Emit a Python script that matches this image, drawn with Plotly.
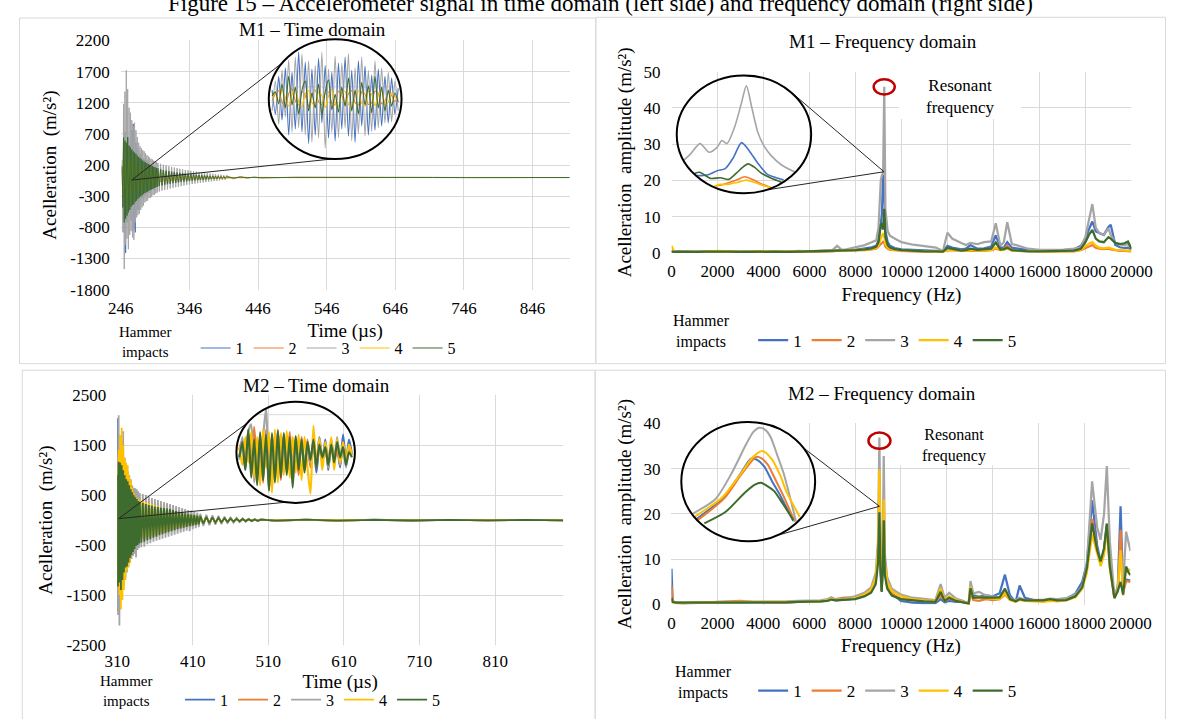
import plotly.graph_objects as go

W, H = 1187, 719
FONT = "Liberation Serif, Times New Roman, Times, serif"
GRID = "#D9D9D9"
COLORS = ["#4472C4", "#ED7D31", "#A5A5A5", "#FFC000", "#3E6B2E"]
NAMES = ["1", "2", "3", "4", "5"]

# ---------------------------------------------------------------- M1 time domain
T1 = [248, 249, 250, 251, 252, 253, 254, 255, 256, 257, 258, 259, 260, 261, 262, 263, 264, 265,
      266, 267, 268, 269, 270, 271, 272, 273, 274, 275, 276, 277, 278, 279, 280, 281, 282, 283,
      284, 285, 286, 287, 288, 289, 290, 291, 292, 293, 294, 295, 296, 297, 298, 299, 300,
      302, 304, 306, 308, 310, 312, 314, 316, 318, 320, 322, 324, 326, 328, 330, 332, 334, 336,
      338, 340, 342, 344, 346, 348, 350, 352, 354, 356, 358, 360, 362, 364, 366, 368, 370, 372,
      374, 376, 378, 380, 382, 384, 386, 388, 390, 392, 394, 396, 398, 400,
      410, 420, 430, 440, 450, 500, 550, 600, 650, 700, 750, 800, 850, 900]
T1S = [248, 250, 252, 254, 256, 258, 260, 262, 264, 266, 268, 270, 272, 274, 276, 278, 280, 282,
       284, 286, 288, 290, 292, 294, 296, 298, 300,
       304, 308, 312, 316, 320, 324, 328, 332, 336, 340, 344, 348, 352, 356, 360, 364, 368, 372,
       376, 380, 384, 388, 392, 396, 400,
       420, 450, 500, 600, 700, 800, 900]
M1T_1 = [120, -350, 620, -880, 740, -1210, 480, -720, 640, -580,
         520, -540, 610, -690, 760, -790, 860, -830, 690, -880,
         560, -620, 470, -520, 440, -410, 380, -430, 350, -330,
         310, -360, 290, -300, 270, -260, 280, -240, 230, -250,
         210, -220, 200, -190, 210, -180, 170, -190, 160, -150,
         170, -140, 150,
         -130, 140, -120, 125, -115, 110, -120, 100, -105, 95,
         -90, 95, -85, 80, -85, 75, -70, 72, -68, 65,
         -60, 62, -58, 55, -52, 50, -48, 46, -44, 42,
         -40, 38, -36, 34, -32, 30, -29, 27, -26, 24,
         -22, 21, -20, 18, -17, 15, -14, 12, -11, 10,
         -6, 5, -3, 3, -2, 1, -1, 1, 0, 1, 0, -1, 0, 0]
M1T_2 = [150, -320, 380, -300, 340, -280, 260, -250, 230, -220,
         200, -190, 175, -165, 150, -145, 135, -128, 120, -112,
         105, -100, 95, -90, 85, -80, 76,
         -70, 65, -60, 56, -52, 48, -45, 42, -39, 36,
         -33, 31, -29, 27, -25, 23, -21, 19, -17, 15,
         -14, 12, -11, 10, -9,
         5, -3, 2, -1, 1, 0, 0]
M1T_3 = [280, -880, 1180, -1470, 1380, -1080, 1720, -980, 1420, -1150,
         1120, -920, 1040, -860, 920, -960, 830, -1000, 880, -720,
         760, -640, 650, -600, 560, -580, 500, -520, 470, -480,
         440, -450, 420, -400, 390, -380, 360, -370, 340, -330,
         320, -330, 300, -310, 290, -280, 270, -275, 260, -255,
         250, -240, 235,
         -225, 220, -210, 205, -200, 195, -190, 180, -175, 170,
         -165, 160, -155, 150, -150, 140, -138, 132, -128, 122,
         -118, 115, -112, 108, -105, 100, -97, 94, -90, 88,
         -85, 82, -80, 76, -74, 70, -68, 65, -62, 60,
         -57, 54, -52, 49, -46, 44, -41, 38, -36, 33,
         -22, 14, -8, 5, -3, 2, -1, 1, -1, 1, 0, 1, -1, 0]
M1T_4 = [-120, 300, -360, 320, -310, 290, -270, 240, -235, 215,
         -205, 185, -180, 160, -155, 140, -138, 125, -120, 110,
         -106, 98, -94, 88, -84, 78, -74,
         68, -63, 58, -54, 50, -47, 44, -41, 38, -35,
         33, -30, 28, -26, 24, -22, 20, -18, 17, -15,
         14, -12, 11, -10, 9,
         -5, 3, -2, 2, -1, 1, 0]
M1T_5 = [180, -480, 640, -720, 590, -660, 560, -610, 650, -560,
         510, -520, 480, -470, 450, -440, 420, -430, 400, -390,
         380, -370, 350, -340, 330, -320, 310, -300, 290, -285,
         270, -265, 255, -250, 240, -235, 230, -225, 215, -210,
         205, -200, 195, -190, 185, -180, 172, -168, 162, -158,
         152, -150, 145,
         -138, 132, -126, 120, -115, 110, -106, 102, -98, 94,
         -90, 86, -83, 80, -77, 74, -71, 68, -65, 62,
         -60, 57, -55, 52, -50, 48, -46, 44, -42, 40,
         -38, 36, -35, 33, -31, 30, -28, 27, -25, 24,
         -22, 21, -20, 19, -18, 17, -16, 15, -14, 13,
         -9, 6, -4, 3, -2, 2, -1, 1, -1, 1, -1, 1, -1, 0]

# zoomed view (inset) of M1 time signal
TI1 = [270.5, 271.0, 271.5, 272.0, 272.5, 273.0, 273.5, 274.0, 274.5, 275.0, 275.5, 276.0, 276.5,
       277.0, 277.5, 278.0, 278.5, 279.0, 279.5, 280.0, 280.5, 281.0, 281.5, 282.0, 282.5, 283.0,
       283.5, 284.0, 284.5, 285.0, 285.5, 286.0, 286.5, 287.0, 287.5, 288.0, 288.5, 289.0, 289.5]
M1TI_1 = [150, -250, 380, -350, 520, -600, 450, -500, 790, -550,
          620, -740, 500, -600, 680, -400, 560, -650, 450, -700,
          600, -500, 700, -620, 480, -720, 640, -450, 550, -600,
          400, -520, 500, -450, 380, -400, 350, -250, 180]
M1TI_2 = [-30, 80, 140, -50, -120, 90, 170, -30, -100, 120,
          60, -120, 80, 150, -50, -90, 100, 120, -70, -100,
          130, 60, -110, 90, 140, -60, -100, 120, 80, -90,
          -60, 130, 100, -80, -30, 110, 60, -40, 20]
M1TI_3 = [-200, 300, -420, 480, -300, 650, -550, 700, -480, 750,
          -600, 640, -720, 560, -650, 780, -820, 500, -560, 720,
          -640, 600, -480, 760, -700, 520, -580, 700, -620, 480,
          -540, 640, -480, 520, -400, 450, -380, 300, -200]
M1TI_4 = [20, 100, -60, 150, 30, -120, 80, 160, -40, -130,
          90, 140, -60, -110, 120, 60, -140, 50, 150, -80,
          -120, 110, 130, -90, -130, 100, 140, -70, -120, 130,
          80, -110, 60, 140, -90, -50, 100, 40, -20]
M1TI_5 = [50, 120, -80, 250, -150, 380, -100, 200, -250, 150,
          300, -200, 100, -150, 250, -260, 120, 320, -180, 80,
          -220, 200, -120, 350, -200, 150, -250, 280, -100, 220,
          -230, 380, -150, 200, -200, 150, -120, 100, -50]

# ---------------------------------------------------------------- M2 time domain
T2 = [310, 311, 312, 313, 314, 315, 316, 317, 318, 319, 320, 321, 322, 323, 324, 325, 326, 327,
      328, 329, 330, 331, 332, 333, 334, 335, 336, 337, 338, 339, 340,
      342, 344, 346, 348, 350, 352, 354, 356, 358, 360, 362, 364, 366, 368, 370, 372, 374, 376,
      378, 380, 382, 384, 386, 388, 390, 392, 394, 396, 398, 400, 402, 404, 406, 408, 410, 412,
      414, 416, 418, 420,
      424, 428, 432, 436, 440, 444, 448, 452, 456, 460, 464, 468, 472, 476, 480, 484, 488, 492,
      496, 500,
      520, 560, 600, 650, 700, 750, 800, 850, 900]
M2T_1 = [2040, -1820, 1480, -1350, 1260, -1150, 1080, -1020, 960, -900,
         850, -820, 760, -720, 690, -650, 610, -600, 560, -540,
         520, -500, 480, -470, 620, -440, 430, -420, 410, -400, 390,
         -380, 370, -360, 350, -340, 330, -320, 310, -300, 290,
         -280, 270, -260, 250, -245, 240, -230, 220, -215, 210,
         -200, 195, -190, 180, -175, 170, -165, 160, -150, 145,
         -140, 135, -130, 125, -120, 115, -110, 105, -100, 95,
         -90, 85, -80, 75, -70, 65, -60, 55, -50, 46,
         -42, 38, -34, 30, -27, 24, -21, 18, -16, 14,
         -12, 10, -9, 8, -7, 6, -5, 5, -4]
M2T_2 = [900, -1400, 1300, -1200, 1350, -1100, 1200, -1000, 1100, -950,
         1000, -900, 950, -850, 880, -800, 780, -720, 700, -650,
         600, -560, 520, -480, 450, -430, 410, -400, 380, -370, 360,
         -350, 340, -330, 320, -310, 300, -290, 280, -270, 260,
         -250, 240, -230, 220, -210, 200, -190, 180, -175, 170,
         -160, 150, -145, 140, -130, 125, -120, 115, -110, 105,
         -100, 95, -90, 85, -80, 75, -70, 65, -60, 55,
         -52, 48, -45, 42, -39, 36, -33, 30, -28, 26,
         -24, 22, -20, 18, -16, 14, -12, 11, -10, 9,
         -8, 7, -7, 6, -6, 5, -5, 4, -4]
M2T_3 = [1300, -1900, 2100, -2110, 1700, -1500, 1600, -1400, 1780, -1300,
         1250, -1150, 1100, -1050, 980, -950, 900, -860, 820, -780,
         700, -720, 650, -680, 640, -750, 620, -600, 580, -560, 540,
         -540, 520, -530, 500, -480, 470, -460, 440, -430, 420,
         -410, 400, -390, 380, -370, 360, -350, 340, -330, 320,
         -310, 300, -290, 280, -270, 260, -250, 240, -230, 220,
         -210, 200, -220, 190, -180, 170, -160, 150, -140, 130,
         -120, 110, -100, 95, -90, 85, -80, 72, -65, 58,
         -52, 46, -40, 35, -30, 26, -22, 19, -16, 14,
         -12, 10, -9, 8, -7, 6, -5, 5, -4]
M2T_4 = [800, -1200, 1400, -1500, 1700, -1790, 1850, -1600, 1500, -1400,
         1250, -1200, 1150, -1000, 1100, -940, 900, -850, 800, -700,
         650, -600, 550, -500, 470, -480, 450, -430, 420, -410, 400,
         -390, 380, -370, 360, -350, 340, -330, 320, -310, 300,
         -290, 280, -270, 260, -250, 240, -230, 220, -210, 200,
         -195, 190, -180, 170, -165, 160, -150, 145, -140, 130,
         -125, 120, -115, 110, -100, 95, -90, 85, -80, 75,
         -70, 65, -60, 55, -50, 46, -42, 38, -34, 30,
         -27, 24, -21, 18, -16, 14, -12, 11, -10, 9,
         -8, 7, -7, 6, -6, 5, -5, 4, -4]
M2T_5 = [900, -1330, 1170, -1250, 1150, -1400, 1100, -1200, 1000, -1050,
         900, -950, 820, -930, 780, -850, 700, -760, 620, -700,
         560, -640, 500, -580, 460, -520, 420, -500, 380, -470, 360,
         -450, 340, -430, 320, -400, 300, -380, 290, -350, 270,
         -330, 260, -300, 250, -280, 240, -260, 230, -240, 220,
         -220, 200, -200, 180, -180, 165, -165, 150, -150, 138,
         -135, 125, -120, 112, -108, 100, -96, 90, -85, 80,
         -72, 66, -60, 55, -50, 45, -41, 37, -34, 31,
         -28, 25, -23, 21, -19, 17, -15, 14, -12, 11,
         -10, 9, -8, 7, -7, 6, -6, 5, -5]

# zoomed view (inset) of M2 time signal
TI2 = [320.5, 321.0, 321.5, 322.0, 322.5, 323.0, 323.5, 324.0, 324.5, 325.0, 325.5, 326.0, 326.5,
       327.0, 327.5, 328.0, 328.5, 329.0, 329.5, 330.0, 330.5, 331.0, 331.5, 332.0, 332.5, 333.0,
       333.5, 334.0, 334.5, 335.0, 335.5, 336.0, 336.5, 337.0, 337.5, 338.0, 338.5, 339.0, 339.5]
M2TI_1 = [-100, 200, -300, 350, -250, 400, -450, 300, -400, 350,
          -500, 300, -350, 250, -400, 300, -300, 200, -350, 250,
          -200, 200, -300, 150, -250, 200, -400, 150, -200, 250,
          -350, 200, -150, 100, -300, 350, -200, 250, -50]
M2TI_2 = [50, 250, -200, 400, -300, 500, -400, 350, -600, 450,
          -650, 300, -400, 450, -550, 350, -350, 400, -300, 200,
          -450, 300, -350, 250, -300, 200, -250, 300, -200, 150,
          -300, 250, -150, 100, -250, 150, -100, 50, -50]
M2TI_3 = [-150, 300, -350, 400, 550, -600, 200, -500, 300, 860,
          -750, 350, -500, 400, -450, 300, -400, 250, -350, 300,
          -250, 200, -300, 150, -200, 250, -250, 300, -150, 200,
          -300, 150, -200, 300, -250, 150, -300, 100, -50]
M2TI_4 = [100, -250, 300, -200, 400, -500, 300, -650, 450, -300,
          400, -800, 450, -600, 380, -450, 420, -500, 300, -400,
          350, -550, 300, -300, -820, 520, -300, 250, -350, 200,
          -250, 300, -350, 250, -200, 200, -150, 150, -50]
M2TI_5 = [-100, 200, -350, 450, -500, 250, -650, 400, -550, 350,
          -760, 380, -600, 420, -500, 380, -450, 300, -700, 320,
          -350, 250, -400, 200, -150, 250, -300, 150, -100, 100,
          -250, 150, -200, 200, -100, 100, -250, 0, -100]

# ---------------------------------------------------------------- M1 frequency domain
F1 = [0, 100, 300, 600, 1000, 1500, 2000, 2500, 3000, 3500,
      4000, 4500, 5000, 5500, 6000, 6500, 7000, 7200, 7400, 7600,
      8000, 8400, 8700, 8900, 9000, 9100, 9150, 9200, 9250, 9300,
      9400, 9500, 9700, 10000, 10500, 11000, 11500, 11800, 12000, 12200,
      12400, 12600, 12800, 13000, 13300, 13600, 13900, 14100, 14300, 14450,
      14600, 14800, 15000, 15500, 16000, 16500, 17000, 17500, 17800, 18000,
      18150, 18300, 18450, 18600, 18800, 19000, 19100, 19300, 19500, 19700,
      19850, 20000]
M1F_1 = [0.3, 0.5, 0.3, 0.4, 0.3, 0.4, 0.4, 0.3, 0.4, 0.3,
         0.4, 0.3, 0.4, 0.4, 0.5, 0.5, 0.6, 0.7, 0.7, 0.8,
         0.9, 1.2, 1.6, 2.0, 3.5, 8.0, 11.0, 21.5, 18.0, 6.0,
         3.0, 2.0, 1.4, 1.0, 0.8, 0.7, 0.6, 0.5, 2.0, 1.5,
         1.2, 1.0, 1.2, 2.2, 1.2, 1.3, 1.8, 4.9, 1.5, 1.5,
         3.0, 1.5, 1.3, 0.8, 0.7, 0.6, 0.8, 1.0, 2.0, 4.0,
         6.5, 8.7, 6.0, 5.5, 5.0, 7.2, 7.8, 2.2, 1.6, 1.4,
         1.5, 1.0]
M1F_2 = [0.8, 0.3, 0.3, 0.3, 0.3, 0.3, 0.4, 0.3, 0.3, 0.4,
         0.3, 0.3, 0.3, 0.4, 0.4, 0.5, 0.5, 0.6, 0.6, 0.6,
         0.7, 0.8, 1.0, 1.2, 1.8, 2.6, 2.8, 3.1, 2.8, 1.8,
         1.2, 0.9, 0.8, 0.6, 0.5, 0.5, 0.4, 0.4, 0.8, 0.7,
         0.6, 0.5, 0.6, 0.7, 0.6, 0.6, 0.8, 1.2, 0.8, 1.2,
         2.0, 0.8, 0.6, 0.5, 0.4, 0.4, 0.5, 0.5, 0.8, 1.3,
         1.8, 2.2, 1.5, 1.2, 1.1, 1.2, 1.0, 0.7, 0.6, 0.6,
         0.5, 0.5]
M1F_3 = [0.5, 0.3, 0.4, 0.3, 0.4, 0.3, 0.5, 0.4, 0.3, 0.5,
         0.4, 0.5, 0.4, 0.6, 0.5, 0.7, 0.8, 2.0, 0.9, 1.0,
         1.5, 2.2, 3.0, 3.5, 7.0, 20.0, 21.5, 22.0, 45.8, 12.0,
         6.0, 4.8, 4.0, 3.0, 2.3, 2.0, 1.5, 0.6, 5.6, 4.0,
         3.5, 2.8, 2.2, 2.8, 2.5, 3.0, 3.2, 8.2, 2.0, 3.0,
         8.5, 2.5, 2.2, 1.2, 0.9, 0.8, 0.9, 1.2, 1.6, 4.5,
         9.0, 13.5, 7.0, 5.5, 5.0, 6.8, 5.0, 2.8, 2.4, 2.2,
         2.5, 1.2]
M1F_4 = [2.0, 0.4, 0.3, 0.3, 0.3, 0.4, 0.6, 0.4, 0.3, 0.5,
         0.4, 0.4, 0.4, 0.5, 0.5, 0.6, 0.6, 0.7, 0.7, 0.7,
         0.8, 0.9, 1.1, 1.4, 2.2, 4.0, 4.6, 5.5, 4.5, 2.5,
         1.5, 1.1, 0.9, 0.7, 0.6, 0.5, 0.5, 0.4, 0.9, 0.8,
         0.7, 0.6, 0.6, 0.8, 0.7, 0.7, 0.9, 1.5, 0.8, 0.9,
         1.3, 0.7, 0.6, 0.5, 0.5, 0.5, 0.5, 0.6, 0.9, 1.8,
         2.6, 3.0, 2.0, 1.5, 1.3, 1.5, 1.3, 0.9, 0.8, 0.8,
         0.7, 0.6]
M1F_5 = [0.5, 0.3, 0.4, 0.3, 0.3, 0.4, 0.5, 0.4, 0.3, 0.4,
         0.3, 0.4, 0.3, 0.4, 0.4, 0.5, 0.5, 0.6, 0.6, 0.7,
         0.8, 1.0, 1.3, 1.8, 3.0, 7.8, 8.2, 6.5, 12.2, 4.5,
         2.2, 1.5, 1.1, 0.8, 0.6, 0.5, 0.5, 0.4, 1.4, 1.1,
         0.9, 0.7, 0.8, 1.2, 0.9, 1.0, 1.2, 2.9, 1.0, 1.1,
         1.5, 0.8, 0.7, 0.5, 0.5, 0.5, 0.6, 0.7, 1.2, 3.0,
         5.0, 6.4, 4.0, 3.2, 3.0, 4.4, 4.0, 2.8, 2.5, 2.7,
         3.2, 1.2]

# zoomed view (inset) around the M1 resonance
M1FI_F1 = [8845, 8900, 8941, 9001, 9061, 9120, 9182, 9240, 9303, 9375, 9430, 9495]
M1FI_1 = [7.5, 7.6, 8.0, 9.6, 10.5, 15.0, 21.5, 18.0, 12.8, 8.0, 6.8, 5.6]
M1FI_F2 = [8989, 9040, 9086, 9150, 9206, 9260, 9330, 9399]
M1FI_2 = [3.1, 3.6, 4.5, 5.8, 7.0, 6.0, 4.0, 2.5]
M1FI_F3 = [8748, 8800, 8873, 8941, 9000, 9037, 9074, 9130, 9180, 9218, 9260, 9303, 9350, 9399, 9480, 9587]
M1FI_3 = [13.8, 16.5, 21.1, 17.4, 19.5, 22.4, 21.1, 28.0, 38.0, 45.6, 36.0, 25.9, 20.0, 16.2, 12.0, 8.8]
M1FI_F4 = [8977, 9025, 9086, 9150, 9218, 9270, 9326, 9399]
M1FI_4 = [3.0, 3.8, 3.8, 4.6, 5.6, 4.8, 3.6, 2.5]
M1FI_F5 = [8835, 8870, 8953, 9025, 9086, 9146, 9190, 9230, 9280, 9326, 9400, 9480]
M1FI_5 = [8.5, 8.9, 6.3, 6.6, 5.9, 8.7, 11.0, 12.5, 11.0, 8.7, 6.5, 4.7]

# ---------------------------------------------------------------- M2 frequency domain
F2 = [0, 50, 200, 500, 1000, 1500, 2000, 2500, 3000, 3500,
      4000, 4500, 5000, 5500, 6000, 6500, 6800, 6970, 7150, 7500,
      8000, 8400, 8700, 8900, 9000, 9060, 9110, 9160, 9210, 9250,
      9300, 9400, 9600, 10000, 10500, 11000, 11500, 11730, 11900, 12100,
      12400, 12700, 12950, 13030, 13150, 13400, 13700, 14000, 14300, 14530,
      14750, 15000, 15170, 15400, 15800, 16200, 16500, 16800, 17200, 17600,
      17900, 18100, 18330, 18550, 18700, 18850, 18970, 19100, 19300, 19450,
      19570, 19680, 19810, 19900, 20000]
M2F_1 = [7.9, 0.8, 0.4, 0.3, 0.4, 0.4, 0.5, 0.5, 0.4, 0.5,
         0.5, 0.5, 0.5, 0.6, 0.6, 0.7, 0.9, 1.4, 0.9, 1.0,
         1.3, 2.0, 3.0, 5.5, 11.0, 27.0, 9.0, 3.0, 10.0, 21.0,
         8.0, 4.0, 2.4, 0.8, 0.4, 0.3, 0.3, 1.2, 0.5, 0.8,
         0.6, 0.6, 0.2, 3.0, 2.0, 1.8, 2.0, 1.8, 2.5, 6.6,
         2.0, 0.6, 4.2, 1.5, 1.0, 0.9, 1.0, 1.0, 1.3, 2.4,
         5.0, 9.0, 23.0, 13.0, 9.5, 12.0, 17.5, 10.0, 1.5, 4.0,
         21.7, 3.0, 5.5, 5.4, 5.3]
M2F_2 = [4.3, 0.7, 0.3, 0.2, 0.3, 0.4, 0.5, 0.6, 0.8, 0.6,
         0.5, 0.5, 0.5, 0.6, 0.6, 0.8, 1.0, 1.3, 1.2, 1.5,
         1.5, 2.0, 3.0, 5.5, 11.0, 26.0, 9.0, 3.0, 9.5, 20.0,
         7.5, 4.0, 2.4, 1.2, 0.9, 0.7, 0.6, 2.0, 0.8, 1.3,
         0.8, 0.6, 0.2, 2.5, 1.0, 0.8, 1.2, 1.0, 1.2, 2.2,
         1.0, 0.8, 1.2, 1.0, 1.0, 1.0, 1.1, 1.1, 1.3, 2.0,
         4.0, 8.0, 18.9, 12.0, 9.3, 12.0, 17.5, 9.0, 1.5, 3.5,
         16.5, 2.5, 5.2, 5.1, 5.0]
M2F_3 = [1.0, 0.5, 0.4, 0.4, 0.5, 0.5, 0.6, 0.6, 0.7, 0.6,
         0.6, 0.6, 0.7, 0.8, 0.8, 0.9, 1.2, 1.6, 1.1, 1.3,
         1.8, 2.6, 3.8, 7.0, 14.0, 36.9, 12.0, 4.0, 14.0, 32.8,
         11.0, 6.0, 3.5, 2.2, 1.5, 1.2, 1.0, 4.5, 1.5, 2.6,
         1.3, 0.8, 0.3, 5.2, 2.5, 2.8, 2.0, 1.8, 1.6, 3.2,
         1.4, 0.9, 1.5, 1.0, 1.0, 1.0, 1.3, 1.2, 1.4, 2.2,
         4.0, 9.0, 27.2, 17.0, 14.3, 20.0, 30.6, 14.0, 1.8, 4.0,
         12.0, 4.0, 16.1, 14.0, 11.8]
M2F_4 = [1.2, 0.5, 0.4, 0.3, 0.4, 0.4, 0.5, 0.5, 0.6, 0.6,
         0.5, 0.5, 0.6, 0.6, 0.6, 0.7, 0.9, 1.3, 1.0, 1.1,
         1.4, 2.2, 3.3, 6.0, 12.0, 29.8, 10.0, 3.5, 11.0, 23.2,
         9.0, 5.0, 3.0, 1.8, 1.2, 0.9, 0.8, 3.5, 1.0, 1.8,
         1.0, 0.6, 0.2, 4.0, 1.5, 1.8, 1.4, 1.3, 1.2, 2.5,
         1.0, 0.6, 1.0, 0.8, 0.7, 0.6, 0.8, 0.7, 0.9, 1.6,
         3.5, 7.0, 15.5, 11.0, 8.5, 11.0, 17.0, 8.0, 1.5, 3.0,
         12.0, 2.0, 8.0, 7.8, 7.5]
M2F_5 = [1.5, 0.6, 0.4, 0.4, 0.4, 0.4, 0.5, 0.5, 0.5, 0.5,
         0.5, 0.5, 0.5, 0.6, 0.6, 0.7, 0.8, 1.1, 0.9, 1.0,
         1.2, 1.8, 2.6, 4.5, 9.0, 20.4, 7.0, 2.8, 8.0, 18.6,
         6.5, 3.5, 2.0, 1.2, 0.9, 0.7, 0.6, 2.8, 0.8, 1.5,
         0.8, 0.5, 0.2, 3.6, 1.5, 1.6, 1.5, 1.5, 1.6, 3.5,
         1.2, 0.7, 1.2, 0.9, 0.9, 0.9, 1.2, 0.9, 1.0, 1.8,
         3.8, 8.0, 17.9, 12.0, 9.5, 12.5, 17.9, 8.5, 1.4, 3.0,
         5.0, 2.2, 8.4, 7.2, 6.5]

# zoomed view (inset) around the M2 resonance
M2FI_F1 = [8611, 8805, 8938, 9023, 9070, 9119, 9180, 9240, 9337]
M2FI_1 = [7.4, 14.2, 22.4, 27.8, 27.2, 25.1, 20.0, 15.3, 6.8]
M2FI_F2 = [8623, 8819, 8950, 9059, 9100, 9146, 9200, 9262, 9349]
M2FI_2 = [7.1, 14.3, 22.5, 28.3, 27.8, 25.7, 21.0, 15.3, 6.5]
M2FI_F3 = [8587, 8756, 8877, 8986, 9040, 9083, 9130, 9168, 9220, 9264, 9310, 9356]
M2FI_3 = [9.3, 14.2, 22.9, 32.7, 36.8, 38.1, 37.3, 34.9, 28.5, 22.9, 15.2, 6.8]
M2FI_F4 = [8599, 8805, 8948, 9035, 9107, 9180, 9240, 9289, 9385]
M2FI_4 = [8.2, 14.7, 22.9, 28.3, 30.3, 27.3, 22.0, 16.3, 8.2]
M2FI_F5 = [8672, 8829, 8974, 9050, 9095, 9140, 9192, 9260, 9337]
M2FI_5 = [6.0, 9.8, 16.3, 19.0, 19.6, 18.6, 16.9, 12.5, 7.1]

# ---------------------------------------------------------------- tick labels
T1_TICKS = [246, 346, 446, 546, 646, 746, 846]
T1_YTICKS = [2200, 1700, 1200, 700, 200, -300, -800, -1300, -1800]
T2_TICKS = [310, 410, 510, 610, 710, 810]
T2_YTICKS = [2500, 1500, 500, -500, -1500, -2500]
F_TICKS = [0, 2000, 4000, 6000, 8000, 10000, 12000, 14000, 16000, 18000, 20000]
F1_YTICKS = [0, 10, 20, 30, 40, 50]
F2_YTICKS = [0, 10, 20, 30, 40]

for xs, ys in [(T1, M1T_1), (T1S, M1T_2), (T1, M1T_3), (T1S, M1T_4), (T1, M1T_5),
               (T2, M2T_1), (T2, M2T_2), (T2, M2T_3), (T2, M2T_4), (T2, M2T_5),
               (TI1, M1TI_1), (TI1, M1TI_2), (TI1, M1TI_3), (TI1, M1TI_4), (TI1, M1TI_5),
               (TI2, M2TI_1), (TI2, M2TI_2), (TI2, M2TI_3), (TI2, M2TI_4), (TI2, M2TI_5),
               (F1, M1F_1), (F1, M1F_2), (F1, M1F_3), (F1, M1F_4), (F1, M1F_5),
               (F2, M2F_1), (F2, M2F_2), (F2, M2F_3), (F2, M2F_4), (F2, M2F_5),
               (M1FI_F1, M1FI_1), (M1FI_F2, M1FI_2), (M1FI_F3, M1FI_3), (M1FI_F4, M1FI_4), (M1FI_F5, M1FI_5),
               (M2FI_F1, M2FI_1), (M2FI_F2, M2FI_2), (M2FI_F3, M2FI_3), (M2FI_F4, M2FI_4), (M2FI_F5, M2FI_5)]:
    assert len(xs) == len(ys), (len(xs), len(ys))

# ---------------------------------------------------------------- layout geometry (pixels)
def px(x):
    return x / W

def py(y):
    return 1 - y / H

GEO = {  # (left, right), (bottom, top) in pixels
    1: ((111, 573), (288.3, 32.3)),        # M1 time
    2: ((678, 1151.4), (250.7, 64.3)),     # M1 frequency
    3: ((107.2, 566.4), (653.3, 396.7)),   # M2 time
    4: ((677.9, 1150.4), (611.7, 425.7)),  # M2 frequency
    5: ((263.3, 400), (154, 31)),          # inset M1 time
    6: ((683.3, 821.7), (189.3, 68.3)),    # inset M1 frequency
    7: ((230, 352), (507.3, 403.3)),       # inset M2 time
    8: ((688, 825.8), (546.7, 424.3)),     # inset M2 frequency
}
RANGES = {
    1: ([246, 900], [-1800, 2200]),
    2: ([0, 20000], [0, 50]),
    3: ([310, 900], [-2500, 2500]),
    4: ([0, 20000], [0, 40]),
    5: ([270, 290], [-1000, 1000]),
    6: ([8700, 9700], [0, 50]),
    7: ([320, 340], [-1000, 1000]),
    8: ([8500, 9500], [0, 40]),
}

def to_paper(n, xv, yv):
    (x0, x1), (yb, yt) = GEO[n]
    (rx0, rx1), (ry0, ry1) = RANGES[n]
    X = x0 + (xv - rx0) / (rx1 - rx0) * (x1 - x0)
    Y = yb + (yv - ry0) / (ry1 - ry0) * (yt - yb)
    return px(X), py(Y)

def ax_name(n, kind):
    return kind + ("" if n == 1 else str(n))

fig = go.Figure()

def add_line(n, xs, ys, i, width, legend=None, spline=False):
    fig.add_trace(go.Scatter(
        x=xs, y=ys, mode="lines", name=NAMES[i],
        line=dict(color=COLORS[i], width=width,
                  shape="spline" if spline else "linear", smoothing=0.7 if spline else None),
        xaxis=ax_name(n, "x"), yaxis=ax_name(n, "y"),
        showlegend=legend is not None, legend=legend if legend else "legend",
        hoverinfo="skip"))

# main panels
for i, (xs, ys) in enumerate([(T1, M1T_1), (T1S, M1T_2), (T1, M1T_3), (T1S, M1T_4), (T1, M1T_5)]):
    add_line(1, xs, ys, i, 1.0, legend="legend")
for i, ys in enumerate([M1F_1, M1F_2, M1F_3, M1F_4, M1F_5]):
    add_line(2, F1, ys, i, 2.25, legend="legend2")
for i, ys in enumerate([M2T_1, M2T_2, M2T_3, M2T_4, M2T_5]):
    add_line(3, T2, ys, i, 1.8, legend="legend3")
for i, ys in enumerate([M2F_1, M2F_2, M2F_3, M2F_4, M2F_5]):
    add_line(4, F2, ys, i, 2.25, legend="legend4")

# insets
for i, ys in enumerate([M1TI_1, M1TI_2, M1TI_3, M1TI_4, M1TI_5]):
    add_line(5, TI1, ys, i, 1.1, spline=True)
for i, (xs, ys) in enumerate([(M1FI_F1, M1FI_1), (M1FI_F2, M1FI_2), (M1FI_F3, M1FI_3),
                              (M1FI_F4, M1FI_4), (M1FI_F5, M1FI_5)]):
    add_line(6, xs, ys, i, 1.6, spline=True)
for i, ys in enumerate([M2TI_1, M2TI_2, M2TI_3, M2TI_4, M2TI_5]):
    add_line(7, TI2, ys, i, 2.2, spline=True)
for i, (xs, ys) in enumerate([(M2FI_F1, M2FI_1), (M2FI_F2, M2FI_2), (M2FI_F3, M2FI_3),
                              (M2FI_F4, M2FI_4), (M2FI_F5, M2FI_5)]):
    add_line(8, xs, ys, i, 2.0, spline=True)

def domains(n):
    (x0, x1), (yb, yt) = GEO[n]
    return [px(x0), px(x1)], [py(yb), py(yt)]

def labels(vals):
    return [str(v) for v in vals]

MAIN = {
    1: dict(xt=T1_TICKS, yt=T1_YTICKS, xtitle="Time (µs)", ytitle="Acelleration\u00a0 (m/s²)", xs=7, ys=8, tf=17, tso=6),
    2: dict(xt=F_TICKS, yt=F1_YTICKS, xtitle="Frequency (Hz)", ytitle="Acelleration\u00a0 amplitude (m/s²)", xs=7, ys=6, tf=17, tso=6),
    3: dict(xt=T2_TICKS, yt=T2_YTICKS, xtitle="Time (µs)", ytitle="Acelleration\u00a0 (m/s²)", xs=0, ys=8, tf=17, tso=4),
    4: dict(xt=F_TICKS, yt=F2_YTICKS, xtitle="Frequency (Hz)", ytitle="Acelleration\u00a0 amplitude (m/s²)", xs=7, ys=6, tf=17, tso=6),
}

layout = dict(
    width=W, height=H, autosize=False,
    margin=dict(l=0, r=0, t=0, b=0, pad=0),
    paper_bgcolor="white", plot_bgcolor="rgba(0,0,0,0)",
    font=dict(family=FONT, color="black", size=16),
    hovermode=False,
)

for n in range(1, 9):
    xd, yd = domains(n)
    xr, yr = RANGES[n]
    xk, yk = ax_name(n, "xaxis"), ax_name(n, "yaxis")
    if n <= 4:
        m = MAIN[n]
        common = dict(showgrid=True, gridcolor=GRID, gridwidth=1, zeroline=False, showline=False,
                      ticks="", fixedrange=True, tickfont=dict(size=m["tf"], color="black"),
                      tickmode="array")
        layout[xk] = dict(common, domain=xd, range=xr, anchor=ax_name(n, "y"),
                          tickvals=m["xt"], ticktext=labels(m["xt"]), ticklabelstandoff=m["tso"],
                          title=dict(text=m["xtitle"], font=dict(size=19), standoff=m["xs"]))
        layout[yk] = dict(common, domain=yd, range=yr, anchor=ax_name(n, "x"),
                          tickvals=m["yt"], ticktext=labels(m["yt"]), ticklabelstandoff=10,
                          title=dict(text=m["ytitle"], font=dict(size=19), standoff=m["ys"]))
    else:
        layout[xk] = dict(domain=xd, range=xr, visible=False, fixedrange=True, anchor=ax_name(n, "y"))
        layout[yk] = dict(domain=yd, range=yr, visible=False, fixedrange=True, anchor=ax_name(n, "x"))

def legend_cfg(x_px, y_px, size):
    return dict(orientation="h", x=px(x_px), y=py(y_px), xanchor="left", yanchor="middle",
                font=dict(size=size, color="black"), bgcolor="rgba(0,0,0,0)", borderwidth=0,
                itemclick=False, itemdoubleclick=False, traceorder="normal")

layout["legend"] = legend_cfg(188, 348.3, 16)
layout["legend2"] = legend_cfg(762, 340.7, 17)
layout["legend3"] = legend_cfg(172, 709.5, 16)
layout["legend4"] = legend_cfg(762, 700.7, 17)

shapes = []
# panel frames
for (x0, x1, y0, y1) in [(6.7, 600, 9.3, 364.3), (600, 1186.5, 8.5, 364.3),
                         (9.6, 599.3, 371, 730), (599.3, 1186.5, 371, 730)]:
    shapes.append(dict(type="rect", xref="paper", yref="paper", x0=px(x0), x1=px(x1),
                       y0=py(y1), y1=py(y0), line=dict(color=GRID, width=1), layer="below"))
# white boxes behind the "Resonant frequency" notes
for (x0, x1, y0, y1) in [(912, 1038, 58, 113), (907, 1032, 420, 469)]:
    shapes.append(dict(type="rect", xref="paper", yref="paper", x0=px(x0), x1=px(x1),
                       y0=py(y1), y1=py(y0), line=dict(width=0), fillcolor="white", layer="above"))
# inset gridline fragments
for n, xa, xb, yv in [(5, 273.9, 289.3, 203), (5, 270.7, 289.6, -257),
                      (7, 323.5, 336.5, 742), (7, 331.8, 338.9, -442)]:
    shapes.append(dict(type="line", xref=ax_name(n, "x"), yref=ax_name(n, "y"),
                       x0=xa, x1=xb, y0=yv, y1=yv, line=dict(color=GRID, width=1), layer="below"))
# connectors: from the zoomed data location to the magnifier ellipse
CONNECT = [
    (1, (262, -40), [(275.5, 56.7), (329, 154)]),
    (2, (9240, 22.4), [(803, 87), (778, 185.5)]),
    (3, (312, 30), [(241.5, 425), (282, 506.5)]),
    (4, (9060, 21.7), [(815, 451.7), (791, 539.5)]),
]
for n, (dx, dy), ends in CONNECT:
    ax0, ay0 = to_paper(n, dx, dy)
    for ex, ey in ends:
        shapes.append(dict(type="line", xref="paper", yref="paper", x0=ax0, y0=ay0,
                           x1=px(ex), y1=py(ey), line=dict(color="#262626", width=1), layer="above"))
# magnifier ellipses
for n in (5, 6, 7, 8):
    (x0, x1), (yb, yt) = GEO[n]
    shapes.append(dict(type="circle", xref="paper", yref="paper", x0=px(x0), x1=px(x1),
                       y0=py(yb), y1=py(yt), line=dict(color="black", width=2),
                       fillcolor="rgba(0,0,0,0)", layer="above"))
# red rings marking the resonant peaks
for n, (cx, cy, w, h) in [(2, (9248, 45.8, 917, 4.2)), (4, (9063, 36.2, 957, 3.6))]:
    shapes.append(dict(type="circle", xref=ax_name(n, "x"), yref=ax_name(n, "y"),
                       x0=cx - w / 2, x1=cx + w / 2, y0=cy - h / 2, y1=cy + h / 2,
                       line=dict(color="#C00000", width=2.5), layer="above"))
layout["shapes"] = shapes

def note(text, x, y, size, **kw):
    d = dict(text=text, x=px(x), y=py(y), xref="paper", yref="paper", showarrow=False,
             font=dict(size=size, color="black", family=FONT), xanchor="center", yanchor="middle")
    d.update(kw)
    return d

layout["annotations"] = [
    note("Figure 15 – Accelerometer signal in time domain (left side) and frequency domain (right side)",
         605, 9, 23, yanchor="bottom"),
    note("M1 – Time domain", 308, 21.5, 19),
    note("M1 – Frequency domain", 896, 33.3, 19),
    note("M2 – Time domain", 312, 387, 19),
    note("M2 – Frequency domain", 895, 395, 19),
    note("Resonant<br>frequency", 975, 90, 17),
    note("Resonant<br>frequency", 969, 448, 16),
    note("Hammer<br>impacts", 136, 342.5, 15),
    note("Hammer<br>impacts", 709, 331.3, 16),
    note("Hammer<br>impacts", 116, 701, 15),
    note("Hammer<br>impacts", 711, 691.7, 16),
]

fig.update_layout(**layout)
fig.write_html("out.html", config={"displayModeBar": False, "staticPlot": True},
               post_script="document.body.style.margin='0px';document.body.style.overflow='hidden';")
